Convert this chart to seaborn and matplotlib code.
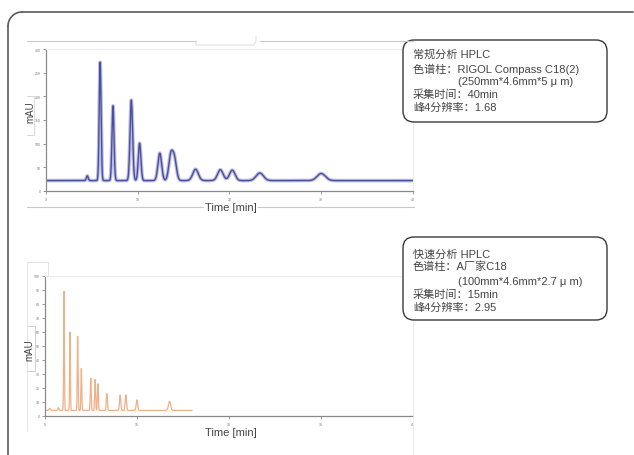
import numpy as np
import pandas as pd
import matplotlib
matplotlib.use("Agg")
import matplotlib.pyplot as plt
import seaborn as sns
from matplotlib.patches import FancyBboxPatch

# --- peaks: retention time (min), height above baseline (mAU), sigma (min)
std_rt = [4.5, 5.9, 7.3, 9.3, 10.2, 12.4, 13.6, 14.0, 16.3, 19.0, 20.3, 23.3, 30.0]
std_h = [10, 250, 158, 170, 79, 58, 52, 44, 24, 23, 22, 16, 15]
std_w = [0.10, 0.10, 0.11, 0.14, 0.14, 0.20, 0.22, 0.22, 0.30, 0.30, 0.30, 0.40, 0.45]
std_base = 22
std_end = 40

fast_rt = [0.5, 1.45, 2.07, 2.72, 3.55, 3.95, 4.97, 5.45, 5.75, 6.72, 8.17, 8.79, 9.99, 13.54]
fast_h = [1.5, 2, 85, 56, 53, 30, 23, 22, 19, 12, 11, 11, 7.5, 6.5]
fast_w = [0.08, 0.06, 0.04, 0.04, 0.045, 0.045, 0.05, 0.05, 0.05, 0.06, 0.07, 0.07, 0.08, 0.12]
fast_base = 4
fast_end = 16

x_ticks = [0, 10, 20, 30, 40]
std_yticks = [0, 50, 100, 150, 200, 250, 300]
fast_yticks = [0, 10, 20, 30, 40, 50, 60, 70, 80, 90, 100]

std_text = ["常规分析 HPLC", "色谱柱：RIGOL Compass C18(2)", "(250mm*4.6mm*5 μ m)",
            "采集时间：40min", "峰4分辨率：1.68"]
fast_text = ["快速分析 HPLC", "色谱柱：A厂家C18", "(100mm*4.6mm*2.7 μ m)",
             "采集时间：15min", "峰4分辨率：2.95"]


def trace(rt, h, w, base, end):
    t = np.arange(0, end, 0.01)
    y = np.full_like(t, base, dtype=float)
    for r, hh, ww in zip(rt, h, w):
        y += hh * np.exp(-0.5 * ((t - r) / ww) ** 2)
    return pd.DataFrame({"time": t, "mAU": y})


sns.set_theme(style="white")
plt.rcParams['font.family'] = ['Liberation Sans', 'Noto Sans CJK SC', 'DejaVu Sans']

W, H = 634, 456
fig = plt.figure(figsize=(W / 100, H / 100), dpi=100)


def px_axes(l, t, r, b):
    return fig.add_axes([l / W, 1 - b / H, (r - l) / W, (b - t) / H])


def style(ax, yticks):
    ax.set_xlim(0, 40)
    ax.set_ylim(yticks[0], yticks[-1])
    ax.set_xticks(x_ticks)
    ax.set_yticks(yticks)
    ax.set_xlabel("")
    ax.set_ylabel("")
    for s in ["left", "bottom"]:
        ax.spines[s].set_color("#8a8a8a")
        ax.spines[s].set_linewidth(0.9)
    for s in ["top", "right"]:
        ax.spines[s].set_color("#ececec")
        ax.spines[s].set_linewidth(0.8)
    ax.tick_params(axis="both", which="both", length=2, width=0.6, color="#888888",
                   labelsize=2.5, labelcolor="#777777", pad=2,
                   bottom=True, left=True)
    ax.patch.set_alpha(0)


ax1 = px_axes(46, 50, 413, 192)
df_std = trace(std_rt, std_h, std_w, std_base, std_end)
sns.lineplot(data=df_std, x="time", y="mAU", ax=ax1, color="#8e92c8", lw=2.6, alpha=0.6)
sns.lineplot(data=df_std, x="time", y="mAU", ax=ax1, color="#4a50a0", lw=1.0)
style(ax1, std_yticks)

ax2 = px_axes(45, 277, 413, 417)
sns.lineplot(data=trace(fast_rt, fast_h, fast_w, fast_base, fast_end), x="time", y="mAU",
             ax=ax2, color="#f0b088", lw=0.9)
style(ax2, fast_yticks)

# overlay in pixel units for frame, boxes and labels
ov = fig.add_axes([0, 0, 1, 1], zorder=5)
ov.set_xlim(0, W)
ov.set_ylim(H, 0)
ov.axis("off")

# outer frame (rounded top-left corner)
ov.plot([8, 8], [H, 27], color="#5a5a5a", lw=1.2)
arc = np.linspace(np.pi, 1.5 * np.pi, 20)
ov.plot(22 + 14 * np.cos(arc), 27 + 14 * np.sin(arc), color="#5a5a5a", lw=1.2)
ov.plot([22, 633], [13, 13], color="#5a5a5a", lw=1.2)

light = "#c8c8c8"
# screenshot decoration around the top chart
ov.plot([27, 196], [42, 42], color=light, lw=0.8)
ov.plot([196, 196, 254, 256, 256], [42, 46, 46, 42, 37], color="#dddddd", lw=0.7)
ov.plot([260, 413], [42, 42], color=light, lw=0.8)
ov.plot([27, 206], [208, 208], color=light, lw=0.8)
ov.plot([256, 414], [208, 208], color=light, lw=0.8)
ov.plot([27, 34, 34, 27], [97, 97, 136, 136], color="#d8d8d8", lw=0.7)
# decoration around the bottom chart
ov.plot([48, 48, 27, 27], [277, 263, 263, 432], color="#e4e4e4", lw=0.7)
ov.plot([27, 35, 35, 27], [327, 327, 372, 372], color="#d0d0d0", lw=0.7)
ov.plot([413, 413], [417, 456], color="#eeeeee", lw=0.7)

ov.text(30, 112, "mAU", rotation=90, ha="center", va="center", fontsize=7, color="#444444")
ov.text(231, 208, "Time [min]", ha="center", va="center", fontsize=8, color="#444444",
        bbox=dict(facecolor="white", edgecolor="none", pad=0.5))
ov.text(29, 350, "mAU", rotation=90, ha="center", va="center", fontsize=7, color="#444444")
ov.text(231, 433, "Time [min]", ha="center", va="center", fontsize=8, color="#444444")


def info_box(top, bottom, lines, ys):
    box = FancyBboxPatch((403, top), 204, bottom - top,
                         boxstyle="round,pad=0,rounding_size=11",
                         facecolor="white", edgecolor="#3a3a3a", lw=1.0)
    ov.add_patch(box)
    for i, (txt, y) in enumerate(zip(lines, ys)):
        x = 458 if i == 2 else 413
        ov.text(x, y, txt, ha="left", va="center", fontsize=8, color="#444444")


info_box(41, 123, std_text, [55, 69, 82, 95, 108])
info_box(238, 321, fast_text, [255, 267, 282, 295, 308])

fig.savefig("out.png", dpi=100, facecolor="white")
